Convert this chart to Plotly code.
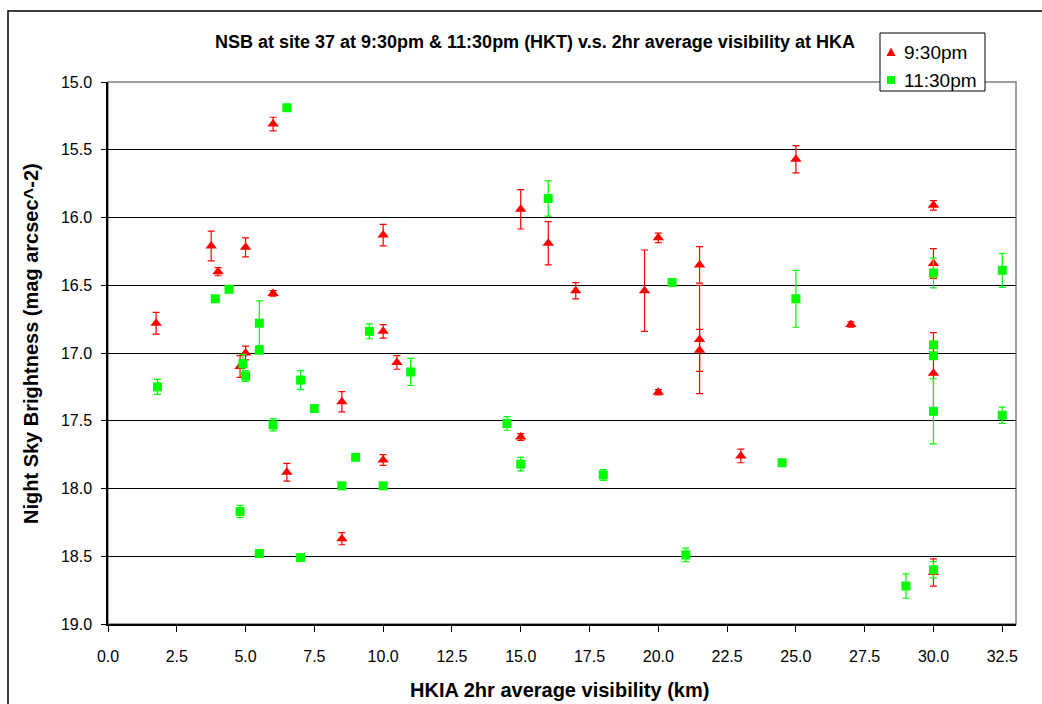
import plotly.graph_objects as go

# Night sky brightness at site 37, 9:30pm readings (HKT)
red_x = [1.75, 3.75, 4.0, 5.0, 4.8, 5.0, 6.0, 6.0, 6.5, 8.5, 8.5, 10.0, 10.0, 10.0,
         10.5, 15.0, 15.0, 16.0, 17.0, 19.5, 20.0, 20.0, 21.5, 21.5, 21.5, 23.0,
         25.0, 27.0, 30.0, 30.0, 30.0, 30.0]
red_y = [16.78, 16.21, 16.40, 16.22, 17.10, 17.00, 15.31, 16.56, 17.88, 17.36, 18.37,
         16.13, 16.84, 17.79, 17.07, 15.94, 17.62, 16.19, 16.54, 16.54, 16.15, 17.29,
         16.35, 16.90, 16.98, 17.76, 15.57, 16.79, 15.91, 16.34, 17.15, 18.62]
red_err = [0.08, 0.11, 0.03, 0.07, 0.08, 0.05, 0.05, 0.02, 0.065, 0.075, 0.045,
           0.08, 0.05, 0.04, 0.05, 0.145, 0.025, 0.16, 0.06, 0.30, 0.035, 0.02,
           0.135, 0.40, 0.155, 0.05, 0.10, 0.02, 0.035, 0.11, 0.30, 0.10]

# 11:30pm readings
green_x = [1.8, 3.9, 4.4, 4.9, 4.8, 5.0, 5.5, 5.5, 5.5, 6.0, 6.5, 7.0, 7.0, 7.5,
           8.5, 9.0, 9.5, 10.0, 11.0, 14.5, 15.0, 16.0, 18.0, 20.5, 21.0, 24.5,
           25.0, 29.0, 30.0, 30.0, 30.0, 30.0, 30.0, 32.5, 32.5]
green_y = [17.25, 16.60, 16.53, 17.08, 18.17, 17.17, 16.78, 16.98, 18.48, 17.53,
           15.19, 17.20, 18.51, 17.41, 17.98, 17.77, 16.84, 17.98, 17.14, 17.52,
           17.82, 15.86, 17.90, 16.48, 18.49, 17.81, 16.60, 18.72, 16.41, 16.94,
           17.02, 17.43, 18.60, 16.39, 17.46]
green_err = [0.055, 0, 0, 0.07, 0.045, 0.04, 0.165, 0, 0, 0.045, 0, 0.07, 0, 0,
             0, 0, 0.055, 0, 0.10, 0.05, 0.05, 0.13, 0.04, 0, 0.05, 0, 0.21,
             0.09, 0.11, 0, 0, 0.24, 0.06, 0.125, 0.06]

series_names = ["9:30pm", "11:30pm"]
x_ticks = [0.0, 2.5, 5.0, 7.5, 10.0, 12.5, 15.0, 17.5, 20.0, 22.5, 25.0, 27.5, 30.0, 32.5]
y_ticks = [15.0, 15.5, 16.0, 16.5, 17.0, 17.5, 18.0, 18.5, 19.0]

FONT = "Arial, Liberation Sans, sans-serif"
RED = "#FF0000"
GREEN = "#00FF00"

# page geometry (pixels)
PAGE_W, PAGE_H = 1042, 704
L, T, R, B = 108, 82, 1016, 624
W, H = R - L, B - T


def px_x(p):
    return (p - L) / W


def px_y(p):
    return 1 - (p - T) / H


fig = go.Figure()

fig.add_trace(go.Scatter(
    x=red_x, y=red_y, mode="markers", name=series_names[0],
    marker=dict(symbol="triangle-up", size=10, color=RED),
    error_y=dict(type="data", array=red_err, visible=True,
                 color=RED, thickness=1.2, width=3.5),
))
fig.add_trace(go.Scatter(
    x=green_x, y=green_y, mode="markers", name=series_names[1],
    marker=dict(symbol="square", size=9, color=GREEN),
    error_y=dict(type="data", array=green_err, visible=True,
                 color=GREEN, thickness=1.2, width=3.5),
))

axis_font = dict(family=FONT, size=16, color="black")

fig.update_xaxes(
    range=[0, 33], tickvals=x_ticks, ticktext=[f"{v:.1f}" for v in x_ticks],
    showgrid=False, zeroline=False, showline=True, linecolor="black", linewidth=1.5,
    ticks="outside", ticklen=6, tickcolor="black", tickwidth=1,
    tickfont=axis_font, ticklabelstandoff=11,
)
fig.update_yaxes(
    range=[19, 15], tickvals=y_ticks, ticktext=[f"{v:.1f}" for v in y_ticks],
    showgrid=True, gridcolor="black", gridwidth=1,
    zeroline=False, showline=True, linecolor="black", linewidth=1.5,
    ticks="outside", ticklen=5, tickcolor="black", tickwidth=1,
    tickfont=axis_font, ticklabelstandoff=6,
)

# legend box geometry (pixels)
LG_X0, LG_X1, LG_Y0, LG_Y1 = 880, 985, 33, 91
ROW_Y = [52, 80]
SYM_X = 891


def tri_path(cx, cy, s):
    pts = [(cx - s, cy + s * 0.9), (cx + s, cy + s * 0.9), (cx, cy - s)]
    return "M " + " L ".join(f"{px_x(a)},{px_y(b)}" for a, b in pts) + " Z"


shapes = [
    # outer chart frame
    dict(type="rect", xref="paper", yref="paper",
         x0=px_x(8), x1=px_x(PAGE_W + 20), y0=px_y(PAGE_H + 20), y1=px_y(11),
         line=dict(color="black", width=1.5), layer="below"),
    # plot-area border
    dict(type="rect", xref="paper", yref="paper", x0=0, x1=1, y0=0, y1=1,
         line=dict(color="#808080", width=1.5), layer="below"),
    # legend frame
    dict(type="rect", xref="paper", yref="paper",
         x0=px_x(LG_X0), x1=px_x(LG_X1), y0=px_y(LG_Y1), y1=px_y(LG_Y0),
         line=dict(color="black", width=1), fillcolor="white", layer="above"),
    # legend symbols
    dict(type="path", xref="paper", yref="paper", path=tri_path(SYM_X, ROW_Y[0], 4.5),
         fillcolor=RED, line=dict(color=RED, width=0), layer="above"),
    dict(type="rect", xref="paper", yref="paper",
         x0=px_x(SYM_X - 4), x1=px_x(SYM_X + 4), y0=px_y(ROW_Y[1] + 4), y1=px_y(ROW_Y[1] - 4),
         fillcolor=GREEN, line=dict(color=GREEN, width=0), layer="above"),
]

annotations = [
    dict(text="NSB at site 37 at 9:30pm & 11:30pm (HKT) v.s. 2hr average visibility at HKA",
         xref="paper", yref="paper", x=px_x(535), y=px_y(42),
         xanchor="center", yanchor="middle", showarrow=False,
         font=dict(family=FONT, size=18, color="black", weight="bold")),
    dict(text="HKIA 2hr average visibility (km)",
         xref="paper", yref="paper", x=px_x(559), y=px_y(690),
         xanchor="center", yanchor="middle", showarrow=False,
         font=dict(family=FONT, size=20, color="black", weight="bold")),
    dict(text="Night Sky Brightness (mag arcsec^-2)",
         xref="paper", yref="paper", x=px_x(31), y=px_y(344),
         xanchor="center", yanchor="middle", showarrow=False, textangle=-90,
         font=dict(family=FONT, size=20, color="black", weight="bold")),
]
for name, yy in zip(series_names, ROW_Y):
    annotations.append(dict(
        text=name, xref="paper", yref="paper", x=px_x(SYM_X + 11), y=px_y(yy),
        xanchor="left", yanchor="middle", showarrow=False,
        font=dict(family=FONT, size=19, color="black")))

fig.update_layout(
    width=PAGE_W, height=PAGE_H,
    margin=dict(l=L, r=PAGE_W - R, t=T, b=PAGE_H - B, pad=0),
    paper_bgcolor="white", plot_bgcolor="white",
    font=dict(family=FONT, color="black"),
    showlegend=False,
    shapes=shapes,
    annotations=annotations,
)

fig.write_html("out.html")
